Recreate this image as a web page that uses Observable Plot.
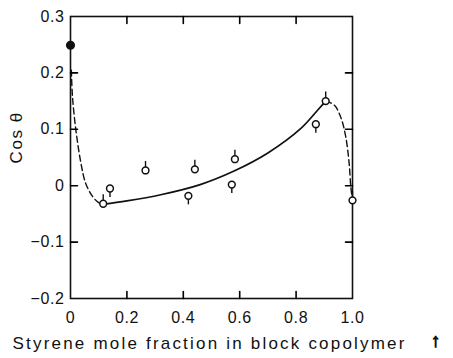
<!DOCTYPE html>
<html>
<head>
<meta charset="utf-8">
<script src="https://cdn.jsdelivr.net/npm/d3@7"></script>
<script src="https://cdn.jsdelivr.net/npm/@observablehq/plot@0.6"></script>
<style>
  html, body { margin: 0; padding: 0; background: #fff; }
  #chart svg { display: block; }
  .xtitle text { letter-spacing: 2.2px; }
  .ytitle text { letter-spacing: 1.6px; }
  .ticklab text { letter-spacing: 0.6px; }
</style>
</head>
<body>
<div id="chart"></div>
<script>
// Tick values
const xTicks = [0, 0.2, 0.4, 0.6, 0.8, 1.0];
const xTickLabels = ["0", "0.2", "0.4", "0.6", "0.8", "1.0"];
const yTicks = [0.3, 0.2, 0.1, 0, -0.1, -0.2];
const yTickLabels = ["0.3", "0.2", "0.1", "0", "\u22120.1", "\u22120.2"];
const innerXTicks = [0.2, 0.4, 0.6, 0.8];
const innerYTicks = [0.2, 0.1, 0, -0.1];

// Measured points (open circles) with stem direction
const openX = [0.116, 0.14, 0.266, 0.418, 0.441, 0.572, 0.583, 0.87, 0.905, 1.0];
const openY = [-0.032, -0.005, 0.027, -0.018, 0.029, 0.002, 0.047, 0.109, 0.150, -0.026];
const openStem = ["up", "down", "up", "down", "up", "down", "up", "down", "up", "up"];

// Filled point (homopolymer)
const filledX = [0];
const filledY = [0.249];

// Solid fitted curve
const solidX = [0.115, 0.2, 0.32, 0.46, 0.58, 0.70, 0.816, 0.88, 0.905];
const solidY = [-0.033, -0.027, -0.016, 0.002, 0.026, 0.058, 0.101, 0.136, 0.150];

// Dashed extrapolations
const dashLeftX = [0.003, 0.007, 0.019, 0.037, 0.054, 0.078, 0.100, 0.115];
const dashLeftY = [0.205, 0.158, 0.099, 0.040, 0.004, -0.019, -0.030, -0.033];
const dashRightX = [0.905, 0.935, 0.958, 0.976, 0.988, 0.994, 1.0];
const dashRightY = [0.150, 0.143, 0.122, 0.087, 0.040, -0.002, -0.026];

const xLabel = "Styrene mole fraction in block copolymer";
const yLabel = "Cos \u03b8";
const marker = "\u2191";

const xDomain = [0, 1];
const yDomain = [-0.2, 0.3];

const pts = openX.map((x, i) => ({x, y: openY[i], dir: openStem[i] === "up" ? 1 : -1}));
const filled = filledX.map((x, i) => ({x, y: filledY[i]}));
const solid = solidX.map((x, i) => ({x, y: solidY[i]}));
const dashL = dashLeftX.map((x, i) => ({x, y: dashLeftY[i]}));
const dashR = dashRightX.map((x, i) => ({x, y: dashRightY[i]}));
const stemLen = 0.016;

const W = 453, H = 358, ML = 70, MR = 101, MT = 16, MB = 60;
const tickLen = 7;
const innerW = W - ML - MR, innerH = H - MT - MB;
const tx = tickLen * (xDomain[1] - xDomain[0]) / innerW;
const ty = tickLen * (yDomain[1] - yDomain[0]) / innerH;

// inward tick segments as two-point polylines, one id per tick
const tickPts = [];
innerXTicks.forEach((v, i) => {
  tickPts.push({id: "b" + i, x: v, y: yDomain[0]}, {id: "b" + i, x: v, y: yDomain[0] + ty});
  tickPts.push({id: "t" + i, x: v, y: yDomain[1]}, {id: "t" + i, x: v, y: yDomain[1] - ty});
});
innerYTicks.forEach((v, i) => {
  tickPts.push({id: "l" + i, x: xDomain[0], y: v}, {id: "l" + i, x: xDomain[0] + tx, y: v});
  tickPts.push({id: "r" + i, x: xDomain[1], y: v}, {id: "r" + i, x: xDomain[1] - tx, y: v});
});

const chart = Plot.plot({
  width: W,
  height: H,
  marginLeft: ML,
  marginRight: MR,
  marginTop: MT,
  marginBottom: MB,
  style: {fontFamily: "'Liberation Sans', Arial, sans-serif", fontSize: "15px", color: "#111", background: "#fff"},
  x: {domain: xDomain, axis: null},
  y: {domain: yDomain, axis: null},
  marks: [
    Plot.frame({stroke: "#111", fill: "none", strokeWidth: 1.6}),
    // tick labels
    Plot.axisX({anchor: "bottom", ticks: xTicks, tickFormat: (d, i) => xTickLabels[i], tickSize: 0, tickPadding: 13, label: null, fontSize: 16, className: "ticklab"}),
    Plot.axisY({anchor: "left", ticks: yTicks, tickFormat: (d, i) => yTickLabels[i], tickSize: 0, tickPadding: 6, label: null, fontSize: 16, className: "ticklab"}),
    // curves
    Plot.line(solid, {x: "x", y: "y", curve: "catmull-rom", stroke: "#111", strokeWidth: 1.7}),
    Plot.line(dashL, {x: "x", y: "y", curve: "catmull-rom", stroke: "#111", strokeWidth: 1.4, strokeDasharray: "6,3.5"}),
    Plot.line(dashR, {x: "x", y: "y", curve: "catmull-rom", stroke: "#111", strokeWidth: 1.4, strokeDasharray: "6,3.5"}),
    // inward ticks on all four sides
    Plot.line(tickPts, {x: "x", y: "y", z: "id", stroke: "#000", strokeWidth: 1.6}),
    // stems
    Plot.ruleX(pts, {x: "x", y1: "y", y2: d => d.y + d.dir * stemLen, stroke: "#111", strokeWidth: 1.4}),
    // circles
    Plot.dot(pts, {x: "x", y: "y", r: 3.4, fill: "#fff", stroke: "#111", strokeWidth: 1.5}),
    Plot.dot(filled, {x: "x", y: "y", r: 3.8, fill: "#111", stroke: "#111"}),
    // axis titles
    Plot.text([yLabel], {frameAnchor: "left", dx: -54, dy: 6, rotate: -90, fontSize: 17, fill: "#111", className: "ytitle"}),
    Plot.text([xLabel], {frameAnchor: "bottom-left", dx: -58, dy: 50, textAnchor: "start", fontSize: 17, fill: "#111", className: "xtitle"}),
    Plot.text([marker], {frameAnchor: "bottom-right", dx: 88, dy: 48, fontSize: 19, fontWeight: "bold", fill: "#111", stroke: "#111", strokeWidth: 1})
  ]
});
document.getElementById("chart").appendChild(chart);
</script>
</body>
</html>
